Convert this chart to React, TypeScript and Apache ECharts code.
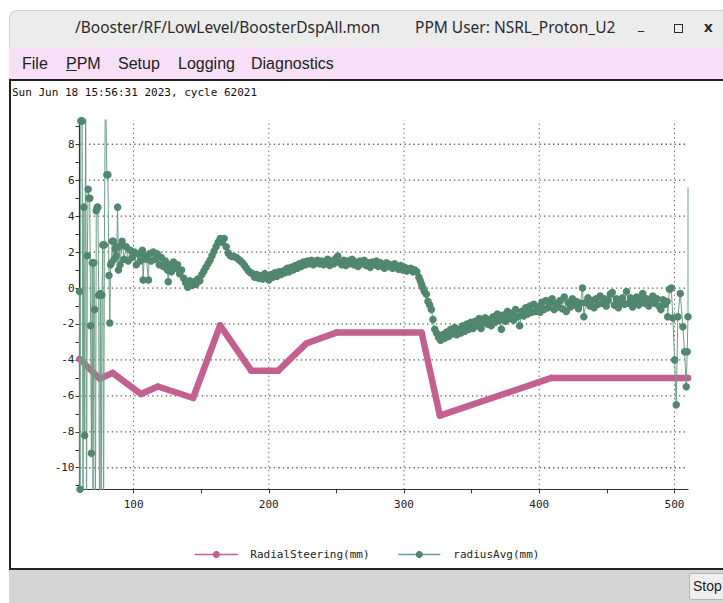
import React, { useEffect, useRef } from "react";
import * as echarts from "echarts";

// ---- axis ranges & tick values ----
const xRange = [60, 510];
const yRange = [-11.2, 9.35];
const xLabelValues = [100, 200, 300, 400, 500];
const xTickValues = [100, 150, 200, 250, 300, 350, 400, 450, 500];
const yLabelValues = [-10, -8, -6, -4, -2, 0, 2, 4, 6, 8];
const yTickValues = [-11, -10, -9, -8, -7, -6, -5, -4, -3, -2, -1, 0, 1, 2, 3, 4, 5, 6, 7, 8, 9];

// ---- series: RadialSteering(mm) ----
const radialSteering: [number, number][] = [
  [60, -3.95], [75, -5.05], [84.5, -4.72], [105.5, -5.9], [118, -5.48], [144, -6.12],
  [164, -2.08], [187, -4.6], [207, -4.6], [228, -3.07], [250, -2.48], [313, -2.48],
  [326.5, -7.1], [409, -5.0], [510, -5.0],
];

// ---- series: radiusAvg(mm) ----
const radiusAvgSpikes: [number, number][] = [
  [60, -0.2], [60.4, -11.2], [61, 9.3], [62, 9.3], [62.6, -14], [63.2, 4.5], [63.8, -8.2],
  [64.6, 12], [65.2, -14], [65.8, 1.8], [66.4, 5.5], [67, 5.0], [67.6, 5.0], [68.2, -2.1],
  [68.8, -9.2], [69.4, 1.4], [70, -14], [70.6, 1.4], [71.2, -1.2], [71.8, -14], [72.4, 4.3],
  [73, 4.5], [73.6, 4.5], [74.2, -0.4], [74.8, -14], [75.4, -0.3], [76, -14], [76.6, -0.4],
  [77.2, 2.4], [77.8, -14], [78.4, 2.4], [79.2, 12], [80.2, 6.3], [81, 6.3], [81.8, 0.7],
  [82.4, -1.95], [83, 1.3], [83.6, 1.4], [84.3, 2.6], [85, 2.6], [85.6, 1.6], [86.3, 2.2],
  [87, 1.8], [87.6, 2.3], [88.2, 4.5], [88.8, 1.0], [89.5, 2.3],
];
const radiusAvgBody: [number, number][] = [
  [90, 1.3], [91.5, 2.6], [93, 1.6], [94.5, 2.3], [96, 1.5], [97.5, 2.1], [99, 1.7], [100.5, 2.0],
  [102, 1.3], [103.5, 1.9], [105, 1.5], [106.5, 2.1], [107, 0.45], [108, 1.8], [109.5, 1.6],
  [111, 0.45], [111.5, 1.9], [113, 1.5], [114.5, 2.0], [116, 1.6], [117.5, 1.9], [119, 1.3],
  [120.5, 1.7], [122, 1.2], [123.5, 1.5], [125, 1.0], [125.6, 0.35], [126.5, 1.3], [128, 0.9],
  [129.5, 1.45], [131, 1.1], [132.5, 1.3], [134, 0.8], [135.5, 1.0], [137, 0.55], [138.5, 0.3],
  [140, 0.05], [141.5, 0.4], [143, 0.15], [144.5, 0.35], [146, 0.2], [147.5, 0.5], [149, 0.4],
  [150.5, 0.75], [152, 0.95], [153.5, 1.15], [155, 1.35], [156.5, 1.55], [158, 1.8], [159.5, 2.05],
  [161, 2.3], [162.5, 2.55], [164, 2.75], [165.5, 2.55], [167, 2.75], [168.5, 2.3], [170, 1.95],
  [171.5, 1.8], [173, 1.75], [174.5, 1.75], [176, 1.7], [177.5, 1.6], [179, 1.5], [180.5, 1.4],
  [182, 1.25], [183.5, 1.1], [185, 0.95], [186.5, 0.85], [188, 0.8], [189.5, 0.6], [191, 0.75],
  [192.5, 0.55], [194, 0.7], [195.5, 0.5], [197, 0.8], [198.5, 0.65], [200, 0.45], [201.5, 0.75],
  [203, 0.6], [204.5, 0.85], [206, 0.65], [207.5, 0.9], [209, 0.75], [210.5, 0.95], [212, 0.85],
  [213.5, 1.1], [215, 0.9], [216.5, 1.15], [218, 1.0], [219.5, 1.25], [221, 1.1], [222.5, 1.35],
  [224, 1.2], [225.5, 1.45], [227, 1.3], [228.5, 1.5], [230, 1.35], [231.5, 1.55], [233, 1.3],
  [234.5, 1.45], [236, 1.55], [237.5, 1.35], [239, 1.5], [240.5, 1.3], [242, 1.45], [243.5, 1.6],
  [245, 1.25], [246.5, 1.5], [248, 1.35], [249.5, 1.65], [251, 1.78], [252.5, 1.4], [254, 1.3],
  [255.5, 1.55], [257, 1.25], [258.5, 1.5], [260, 1.35], [261.5, 1.6], [263, 1.3], [264.5, 1.45],
  [266, 1.2], [267.5, 1.5], [269, 1.35], [270.5, 1.55], [272, 1.25], [273.5, 1.4], [275, 1.15],
  [276.5, 1.45], [278, 1.3], [279.5, 1.5], [281, 1.2], [282.5, 1.4], [284, 1.25], [285.5, 1.1],
  [287, 1.4], [288.5, 1.2], [290, 1.3], [291.5, 1.1], [293, 1.35], [294.5, 1.2], [296, 1.05],
  [297.5, 1.25], [299, 1.0], [300.5, 1.15], [302, 0.95], [303.5, 1.05], [305, 1.1], [306.5, 0.9],
  [308, 1.0], [309.5, 0.9], [311, 0.6], [312, 0.4], [313, 0.2], [314, 0.0], [315, -0.2],
  [316.5, -0.35], [317.7, -0.75], [319, -0.95], [320.2, -1.2], [321.4, -1.75], [322.7, -2.3],
  [324, -2.5], [325.5, -2.75], [327, -2.9], [328.5, -2.6], [330, -2.8], [331.5, -2.45], [333, -2.7],
  [334.5, -2.3], [336, -2.55], [337.5, -2.2], [339, -2.6], [340.5, -2.3], [342, -2.5], [343.5, -2.1],
  [345, -2.4], [346.5, -2.0], [348, -2.3], [349.5, -1.9], [351, -2.25], [352.5, -1.85], [354, -2.1],
  [355.5, -1.7], [357, -2.25], [358.5, -1.9], [360, -1.65], [361.5, -2.0], [363, -1.75],
  [364.5, -2.1], [366, -1.6], [367.5, -1.9], [369, -1.45], [370.5, -1.8], [372, -2.3], [373.5, -1.5],
  [375, -1.85], [376.5, -1.3], [378, -1.7], [379.5, -1.4], [381, -1.8], [382.5, -1.2], [384, -1.6],
  [385.5, -2.1], [387, -1.3], [388.5, -1.55], [390, -1.1], [391.5, -1.45], [393, -1.0],
  [394.5, -1.35], [396, -0.9], [397.5, -1.3], [399, -1.05], [400.5, -1.35], [402, -0.8],
  [403.5, -1.2], [405, -0.7], [406.5, -1.1], [408, -0.85], [409.5, -0.6], [411, -1.2],
  [412.5, -0.85], [414, -1.05], [415.5, -0.7], [417, -1.15], [418.5, -0.5], [420, -1.3],
  [421.5, -0.8], [423, -1.05], [424.5, -0.6], [426, -0.95], [427.5, -0.75], [429, -1.15],
  [430.5, -0.85], [432, 0.0], [433, -1.6], [434.5, -0.8], [436, -0.55], [437.5, -1.0], [439, -0.7],
  [440.5, -1.1], [442, -0.6], [443.5, -0.9], [445, -0.45], [446.5, -0.85], [448, -0.6], [449.5, -1.0],
  [451, -0.7], [452.5, -0.35], [454, -0.25], [455.5, -0.95], [457, -0.6], [458.5, -1.1], [460, -0.8],
  [461.5, -0.55], [463, -0.9], [464.5, -0.2], [466, -0.85], [467.5, -0.55], [469, -1.05],
  [470.5, -0.75], [472, -0.5], [473.5, -0.95], [475, -0.65], [476.5, -0.3], [478, -0.85],
  [479.5, -0.6], [481, -1.0], [482.5, -0.7], [484, -0.45], [485.5, -0.85], [487, -0.6],
  [488.5, -1.0], [490, -1.2], [491.5, -0.65], [493, -0.9], [494.5, -0.75], [495, -1.6],
];
const radiusAvgTail: [number, number][] = [
  [496.3, -0.07], [497.6, 0.0], [498.8, -1.67], [500.1, -4.0], [501.3, -6.5], [502.5, -1.6],
  [504.3, -0.3], [506.2, -2.15], [507.5, -3.55], [508.7, -5.5], [509.4, -3.55], [510, -1.6],
];
const radiusAvgLast: [number, number] = [510, 5.6];

const headerText = "Sun Jun 18 15:56:31 2023, cycle 62021";
const seriesNames = ["RadialSteering(mm)", "radiusAvg(mm)"];
const menuItems = ["File", "PPM", "Setup", "Logging", "Diagnostics"];
const menuLeft = [22, 66, 118, 178, 251];

const PINK = "#c4608f";
const GREEN = "#50876e";
const GREEN_LINE = "#6d9f88";
const MONO = "'DejaVu Sans Mono', monospace";

function Chart() {
  const ref = useRef<HTMLDivElement>(null);
  useEffect(() => {
    if (!ref.current) return;
    const chart = echarts.init(ref.current, undefined, { renderer: "svg" });
    const verticalGrid = xLabelValues.map((v) => ({
      type: "line",
      data: [[v, yRange[0]], [v, yRange[1]]],
      silent: true,
      symbol: "none",
      z: 1,
      clip: false,
      lineStyle: { color: "#555", width: 1, type: [1.2, 3.3] },
      emphasis: { disabled: true },
    }));
    // horizontal dotted grid: a row of small dots along each labelled y value
    const dotStep = 3.33;
    const dotCount = Math.floor((xRange[1] - xRange[0]) / dotStep) + 1;
    const horizontalDots: [number, number][] = [];
    yLabelValues.forEach((v) => {
      for (let k = 0; k < dotCount; k++) horizontalDots.push([xRange[0] + 1 + k * dotStep, v]);
    });
    chart.setOption({
      animation: false,
      textStyle: { fontFamily: MONO },
      title: {
        text: headerText,
        left: 1,
        top: 6,
        padding: 0,
        textStyle: { fontFamily: MONO, fontSize: 11, fontWeight: "normal", color: "#111" },
      },
      legend: {
        data: seriesNames,
        left: "center",
        top: 463,
        itemWidth: 42,
        itemHeight: 9,
        itemGap: 28,
        lineStyle: { width: 1.5 },
        textStyle: { fontFamily: MONO, fontSize: 11, color: "#222", padding: [0, 0, 0, 8] },
      },
      grid: { left: 68.5, top: 39, width: 608.5, height: 369.3, containLabel: false },
      xAxis: {
        type: "value",
        min: xRange[0],
        max: xRange[1],
        axisLine: { show: true, onZero: false, lineStyle: { color: "#333", width: 1.2 } },
        axisTick: { show: true, length: 4, customValues: xTickValues, lineStyle: { color: "#333" } },
        axisLabel: { customValues: xLabelValues, margin: 10, fontFamily: MONO, fontSize: 11, color: "#222" },
        splitLine: { show: false },
      },
      yAxis: {
        type: "value",
        min: yRange[0],
        max: yRange[1],
        axisLine: { show: true, onZero: false, lineStyle: { color: "#333", width: 1.2 } },
        axisTick: { show: true, length: 4, customValues: yTickValues, lineStyle: { color: "#333" } },
        axisLabel: { customValues: yLabelValues, margin: 5, fontFamily: MONO, fontSize: 11, color: "#222" },
        splitLine: { show: false },
      },
      series: [
        ...verticalGrid,
        {
          type: "scatter",
          data: horizontalDots,
          silent: true,
          z: 1,
          symbol: "rect",
          symbolSize: 1.3,
          itemStyle: { color: "#555", opacity: 1 },
          emphasis: { disabled: true },
          large: false,
        },
        {
          name: seriesNames[0],
          type: "line",
          z: 3,
          clip: false,
          data: radialSteering,
          symbol: "circle",
          symbolSize: 6.5,
          showSymbol: true,
          itemStyle: { color: PINK },
          lineStyle: { color: PINK, width: 6.5, cap: "round", join: "round" },
        },
        {
          name: seriesNames[1],
          type: "line",
          z: 4,
          clip: true,
          data: [
            ...radiusAvgSpikes,
            ...radiusAvgBody,
            ...radiusAvgTail,
            { value: radiusAvgLast, symbolSize: 0 },
          ],
          symbol: "circle",
          symbolSize: 7.5,
          showSymbol: true,
          itemStyle: { color: GREEN },
          lineStyle: { color: GREEN_LINE, width: 1 },
        },
      ],
    });
    return () => chart.dispose();
  }, []);
  return <div ref={ref} style={{ position: "absolute", left: 11, top: 81, width: 712, height: 487 }} />;
}

export default function App() {
  return (
    <div style={{ position: "fixed", left: 0, top: 0, width: 723, height: 603, background: "#fff", overflow: "hidden" }}>
      {/* title bar */}
      <div style={{ position: "absolute", left: 9, top: 10, width: 730, height: 37, background: "#ececec", borderTopLeftRadius: 8, borderTop: "1px solid #d0d0d0", borderLeft: "1px solid #d0d0d0" }} />
      <span style={{ position: "absolute", left: 75, top: 16, font: "15.5px 'Noto Sans'", color: "#2b2b2b", whiteSpace: "nowrap" }}>/Booster/RF/LowLevel/BoosterDspAll.mon</span>
      <span style={{ position: "absolute", left: 415, top: 16, font: "15.5px 'Noto Sans'", color: "#2b2b2b", whiteSpace: "nowrap" }}>PPM User: NSRL_Proton_U2</span>
      <span style={{ position: "absolute", left: 638, top: 14, font: "bold 15px 'Noto Sans'", color: "#2b2b2b" }}>_</span>
      <div style={{ position: "absolute", left: 674, top: 24, width: 7, height: 7, border: "1.5px solid #2b2b2b" }} />
      <span style={{ position: "absolute", left: 704, top: 16, font: "bold 15px 'Noto Sans'", color: "#2b2b2b" }}>x</span>
      {/* menu bar */}
      <div style={{ position: "absolute", left: 9, top: 47, width: 730, height: 32, background: "#f7e0f7" }} />
      {menuItems.map((m, i) => (
        <span key={m} style={{ position: "absolute", left: menuLeft[i], top: 55, font: "16px 'Liberation Sans'", color: "#222" }}>
          {m === "PPM" ? (<><u>P</u>PM</>) : m}
        </span>
      ))}
      {/* chart panel */}
      <div style={{ position: "absolute", left: 9, top: 79, width: 730, height: 487, borderTop: "2px solid #222", borderLeft: "2px solid #222", borderBottom: "2px solid #222", background: "#fff" }} />
      <Chart />
      {/* status bar */}
      <div style={{ position: "absolute", left: 9, top: 570, width: 730, height: 33, background: "#d5d5d5" }} />
      <div style={{ position: "absolute", left: 689, top: 573, width: 40, height: 27, background: "#efefef", border: "1px solid #b5b5b5", borderRadius: 2, font: "14px 'Liberation Sans'", color: "#222", lineHeight: "25px", paddingLeft: 3, boxSizing: "border-box", whiteSpace: "nowrap" }}>Stop</div>
    </div>
  );
}
